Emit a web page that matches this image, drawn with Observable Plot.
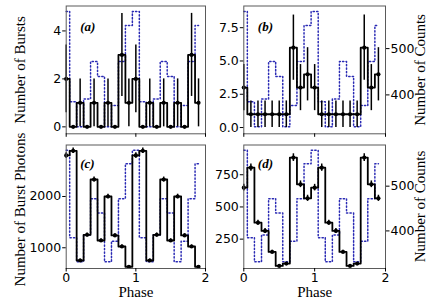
<!DOCTYPE html>
<html><head><meta charset="utf-8">
<script src="https://cdn.jsdelivr.net/npm/d3@7"></script>
<script src="https://cdn.jsdelivr.net/npm/@observablehq/plot@0.6"></script>
<style>
html,body{margin:0;padding:0;background:#fff;}
#chart{position:relative;width:436px;height:308px;overflow:hidden;background:#fff;}
#chart svg{position:absolute;left:0;top:0;background:transparent;}
</style></head><body><div id="chart"></div>
<script>
// Phase bins (two cycles)
const phases = [0.0,0.1,0.2,0.3,0.4,0.5,0.6,0.7,0.8,0.9,1.0,1.1,1.2,1.3,1.4,1.5,1.6,1.7,1.8,1.9];
// (a) number of bursts
const burstsA = [2,0,1,0,1,0,1,0,3,1, 2,0,1,0,1,0,1,0,3,1];
// (b) number of bursts
const burstsB = [3,1,1,1,1,1,1,6,3,4, 3,1,1,1,1,1,1,6,3,4];
// (c) number of burst photons
const photonsC = [2800,2890,752,1253,2331,1142,2000,1240,1025,630, 2800,2890,752,1253,2331,1142,2000,1240,1025,630];
// (d) counts
const countsD = [650,805,378,314,151,42,60,883,676,567, 650,805,378,314,151,42,60,883,676,567];
// blue dotted pulse profile (number of counts, right axis)
const profile = [580,385,331,391,472,440,331,377,472,550, 580,385,331,391,472,440,331,377,472,550];

const xTicks = [0,1,2];
const yTicksA = [0,2,4];
const yTicksB = [0,2.5,5,7.5];
const yTicksC = [1000,2000];
const yTicksD = [250,500,750];
const rightTicks = [400,500];

const W = 436, H = 308;
const panels = [
  {tag:"(a)", vals:burstsA, x1:65.7, x2:205, y1:5.5, y2:133.3, dom:[-0.29,5.04], ticks:yTicksA, fmt:d3.format("d"), right:false, xlab:false, tagDy:21},
  {tag:"(b)", vals:burstsB, x1:243.3, x2:385, y1:5.5, y2:133.3, dom:[-0.47,9.13], ticks:yTicksB, fmt:d3.format(".1f"), right:true, xlab:false, tagDy:21},
  {tag:"(c)", vals:photonsC, x1:65.7, x2:205, y1:144.5, y2:268, dom:[596,3004], ticks:yTicksC, fmt:d3.format("d"), right:false, xlab:true, tagDy:19},
  {tag:"(d)", vals:countsD, x1:243.3, x2:385, y1:144.5, y2:268, dom:[22,981], ticks:yTicksD, fmt:d3.format("d"), right:true, xlab:true, tagDy:19}
];
// axis titles (page layout, pixels)
const titles = [
  {t:"Number of Bursts", x:20, y:69.4, r:-90},
  {t:"Number of Burst Photons", x:20, y:209, r:-90},
  {t:"Number of Counts", x:420, y:69.4, r:-90},
  {t:"Number of Counts", x:420, y:206, r:-90},
  {t:"Phase", x:135.4, y:292, r:0},
  {t:"Phase", x:314.2, y:292, r:0}
];
const twinDomain = [316, 592];
const serif = "Liberation Serif, Times New Roman, serif";
const chart = document.getElementById("chart");
const baseStyle = {fontFamily:"DejaVu Sans, sans-serif", fontSize:"12.5px", background:"transparent", color:"black", overflow:"visible"};

for (const P of panels) {
  const margins = {width:W, height:H, marginLeft:P.x1, marginRight:W-P.x2, marginTop:P.y1, marginBottom:H-P.y2};
  const prof = phases.map((p,i)=>({p, c:profile[i]}));
  const twinMarks = [
    Plot.line(prof, {x:"p", y:"c", curve:"step", stroke:"#2a2ab4", strokeWidth:1.5, strokeDasharray:"1.3,2.2"})
  ];
  if (P.right) {
    twinMarks.push(Plot.axisY(rightTicks, {anchor:"right", tickSize:3.5, tickPadding:1.5, label:null, tickFormat:d3.format("d")}));
  }
  const twin = Plot.plot({
    ...margins,
    style: baseStyle,
    x: {domain:[0,2], axis:null},
    y: {domain:twinDomain, axis: P.right ? undefined : null},
    marks: twinMarks
  });
  chart.appendChild(twin);

  const rows = phases.map((p,i)=>({p, v:P.vals[i]}));
  const marks = [
    Plot.line(rows, {x:"p", y:"v", curve:"step", stroke:"black", strokeWidth:1.8}),
    Plot.ruleX(rows.filter(r=>r.v>0), {x:"p", y1:r=>r.v-Math.sqrt(r.v), y2:r=>r.v+Math.sqrt(r.v), stroke:"black", strokeWidth:1.5}),
    Plot.dot(rows, {x:"p", y:"v", r:2.1, fill:"black"}),
    Plot.frame({stroke:"#5a5a5a", strokeWidth:1}),
    Plot.axisX(xTicks, {tickSize:3.5, tickPadding:1, label:null, tickFormat: P.xlab ? d3.format("d") : ()=>""}),
    Plot.axisY(P.ticks, {tickSize:3.5, tickPadding:1.5, label:null, tickFormat:P.fmt}),
    Plot.text([P.tag], {text:d=>d, frameAnchor:"top-left", dx:14, dy:P.tagDy, textAnchor:"start", lineAnchor:"middle", fontFamily:serif, fontSize:13, fontWeight:"bold", fontStyle:"italic", fill:"black"})
  ];
  const main = Plot.plot({
    ...margins,
    style: baseStyle,
    x: {domain:[0,2]},
    y: {domain:P.dom},
    marks
  });
  chart.appendChild(main);
}

const titlePlot = Plot.plot({
  width:W, height:H, margin:0,
  style: baseStyle,
  x: {type:"identity", axis:null},
  y: {type:"identity", axis:null},
  marks: [
    Plot.text(titles, {x:"x", y:"y", text:"t", rotate:"r", textAnchor:"middle", lineAnchor:"middle", fontFamily:serif, fontSize:15, fill:"black"})
  ]
});
chart.appendChild(titlePlot);
</script></body></html>
